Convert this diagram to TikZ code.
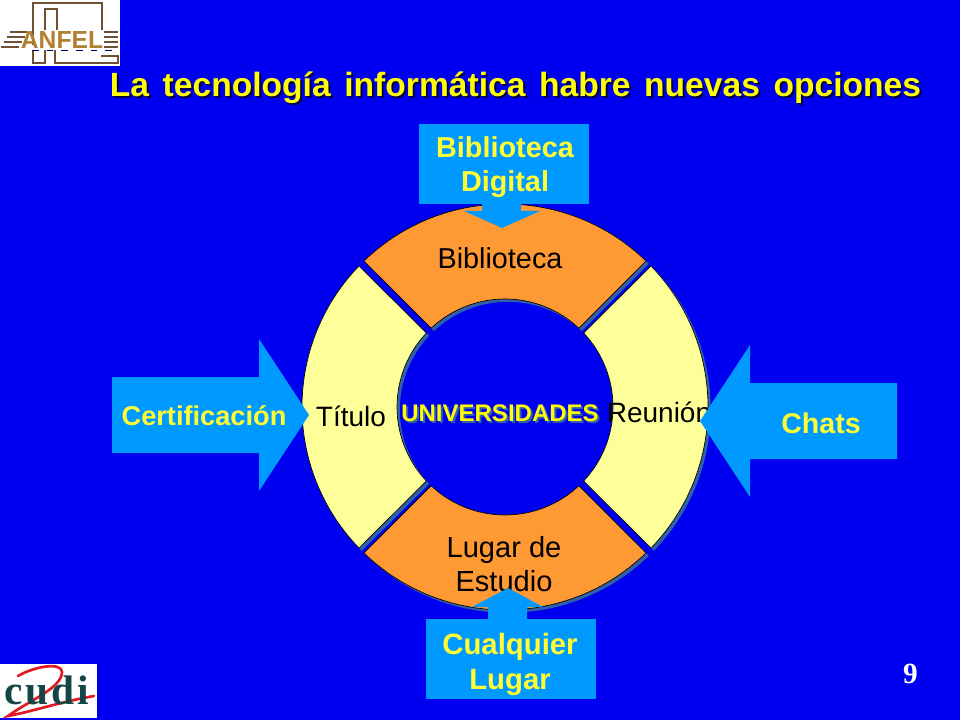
\documentclass[tikz,border=0pt]{standalone}
\usepackage{fontspec}
\setmainfont{Liberation Sans}
\newfontfamily\serifnum{Liberation Serif}
\newfontfamily\cudifont[LetterSpace=7]{Liberation Serif}
\definecolor{bg}{RGB}{0,0,240}
\definecolor{orangeseg}{RGB}{255,153,51}
\definecolor{yellowseg}{RGB}{255,255,153}
\definecolor{shadowseg}{RGB}{48,96,168}
\definecolor{arrowblue}{RGB}{0,153,255}
\definecolor{labelyellow}{RGB}{255,255,51}
\definecolor{titleyellow}{RGB}{255,255,0}
\definecolor{titleshadow}{RGB}{0,0,72}
\definecolor{logogold}{RGB}{176,128,48}
\definecolor{logobrown}{RGB}{110,80,50}
\definecolor{cuditeal}{RGB}{20,70,70}
\definecolor{cudired}{RGB}{225,25,35}
\newcommand{\fs}[2]{\fontsize{#1}{#2}\selectfont}
\newcommand{\titlestr}{\spaceskip=10.2pt\relax La tecnología informática habre nuevas opciones}
\tikzset{
  segment/.style={draw=black,line width=0.5pt},
  bluearrow/.style={fill=arrowblue,draw=none},
  armlabel/.style={text=labelyellow,align=center,inner sep=0pt},
  seglabel/.style={text=black,align=center,inner sep=0pt},
  titletext/.style={font=\fs{25.2}{30}\bfseries,inner sep=0pt,anchor=base},
  univtext/.style={font=\fs{18}{20}\bfseries,inner sep=0pt},
}
% outer start, outer end, inner start, inner end angles
\newcommand{\segshape}[4]{(#1:203) arc[start angle=#1,end angle=#2,radius=203] -- (#4:108) arc[start angle=#4,end angle=#3,radius=108] -- cycle}
\begin{document}
\begin{tikzpicture}[x=0.75pt,y=-0.75pt]
\useasboundingbox (0,0) rectangle (960,720);
\fill[bg] (0,0) rectangle (960,720);
% ring shadows
\begin{scope}[shift={(507.8,409.8)}]
\fill[shadowseg] \segshape{-134}{-46}{-133.2}{-46.8};
\fill[shadowseg] \segshape{-44}{44}{-43.3}{43.3};
\fill[shadowseg] \segshape{46}{134}{46.8}{133.2};
\fill[shadowseg] \segshape{136}{224}{136.7}{223.3};
\end{scope}
% ring segments
\begin{scope}[shift={(505,407)}]
\path[segment,fill=orangeseg] \segshape{-134}{-46}{-133.2}{-46.8};
\path[segment,fill=yellowseg] \segshape{-44}{44}{-43.3}{43.3};
\path[segment,fill=orangeseg] \segshape{46}{134}{46.8}{133.2};
\path[segment,fill=yellowseg] \segshape{136}{224}{136.7}{223.3};
\end{scope}
% ring labels
\node[seglabel,font=\fs{21.6}{25.5}] (biblio) at (500,258) {Biblioteca};
\node[seglabel,font=\fs{21}{25.5}] (titulo) at (351,416) {Título};
\node[seglabel,font=\fs{21}{25.5}] (reunion) at (659,412) {Reunión};
\node[seglabel,font=\fs{21.8}{25.5}] (lugar) at (504,564) {Lugar de\\Estudio};
% arrows
\fill[bluearrow] (112,377) -- (259,377) -- (259,339) -- (309,415) -- (259,491) -- (259,453) -- (112,453) -- cycle;
\fill[bluearrow] (897,383) -- (750,383) -- (750,345) -- (700,421) -- (750,497) -- (750,459) -- (897,459) -- cycle;
\fill[bluearrow] (419,124) rectangle (589,204);
\fill[bluearrow] (482,204) -- (482,211) -- (464,211) -- (502,228) -- (540,211) -- (521,211) -- (521,204) -- cycle;
\fill[bluearrow] (426,619) rectangle (596,699);
\fill[bluearrow] (488,619) -- (488,607) -- (472,607) -- (508,588) -- (543,607) -- (527,607) -- (527,619) -- cycle;
% arrow labels
\node[armlabel,font=\fs{21.6}{25.5}\bfseries] (bibdig) at (505,167.5) {Biblioteca\\Digital};
\node[armlabel,font=\fs{20.4}{25}\bfseries] (cert) at (204,416) {Certificación};
\node[armlabel,font=\fs{21.4}{25}\bfseries] (chats) at (821,423) {Chats};
\node[armlabel,font=\fs{22}{26}\bfseries] (cualq) at (510,664.5) {Cualquier\\Lugar};
% centre label
\node[univtext,text=shadowseg] (univs) at (502,415) {UNIVERSIDADES};
\node[univtext,text=titleyellow] (univ) at (500,413) {UNIVERSIDADES};
% title
\node[titletext,text=titleshadow] (titles) at (517.5,99) {\titlestr};
\node[titletext,text=titleyellow] (title) at (515.5,97) {\titlestr};
% page number
\node[text=white,font=\serifnum\fs{22}{24}\bfseries,inner sep=0pt] (num) at (910.5,674) {9};
% logo ANFEL
\fill[white] (0,0) rectangle (120,66);
\draw[logobrown,line width=1.5pt] (33,45) -- (33,3) -- (102,3) -- (102,30);
\draw[logobrown,line width=1.2pt] (45,30) -- (45,9) -- (57,9) -- (57,30);
\draw[logobrown,line width=1.2pt] (33,50) -- (33,63) -- (45,63) -- (45,50);
\draw[logobrown,line width=1.2pt] (55,50) -- (55,63) -- (118,63) -- (118,56) -- (101,56);
\foreach \yy/\xa/\xb in {32/10/27,37/7/25,42/4/22,47/1/19}{\draw[logobrown,line width=1pt] (\xa,\yy) -- (\xb,\yy);}
\foreach \yy in {32,37,42,47}{\draw[logobrown,line width=1pt] (104,\yy) -- (118,\yy);}
\draw[black!60!blue,line width=0.8pt,dash pattern=on 5pt off 6pt] (32,50.5) -- (118,50.5);
\node[text=logogold,font=\fs{18.5}{20}\bfseries,inner sep=0pt] (anfel) at (62,40) {ANFEL};
% logo cudi
\fill[white] (0,664) rectangle (97,718);
\draw[cudired,line width=2pt,line cap=round] (18,676) .. controls (35,666) and (62,662) .. (62,672) .. controls (62,688) and (30,700) .. (8,716) .. controls (30,712) and (60,702) .. (94,696);
\node[text=cuditeal,font=\cudifont\fs{31}{34}\bfseries,inner sep=0pt] (cudi) at (47,690) {cudi};
\end{tikzpicture}
\end{document}
